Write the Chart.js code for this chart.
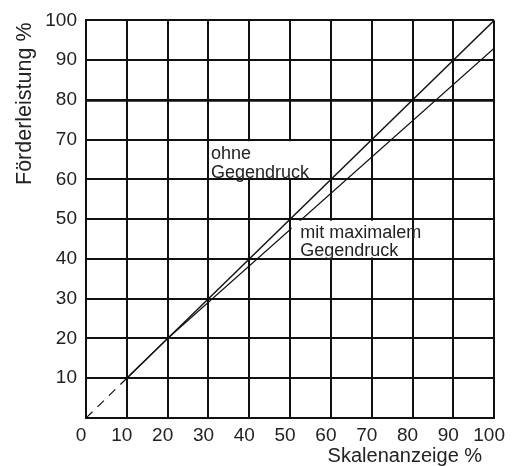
<!DOCTYPE html>
<html>
<head>
<meta charset="utf-8">
<script src="https://cdn.jsdelivr.net/npm/chart.js@4.4.1/dist/chart.umd.min.js"></script>
<style>
html, body { margin: 0; padding: 0; background: #fff; }
#wrap { width: 516px; height: 466px; }
</style>
</head>
<body>
<div id="wrap"><canvas id="chart"></canvas></div>
<script>
// Werte
var skalaOhne = [10, 100];
var foerderOhne = [10, 100];
var skalaMax = [10, 20, 100];
var foerderMax = [10, 20, 93];
var skalaAnlauf = [0, 10];
var foerderAnlauf = [0, 10];
var achsenMin = 0;
var achsenMax = 100;
var tickSchritt = 10;
var beschriftungen = [['ohne', 'Gegendruck'], ['mit maximalem', 'Gegendruck']];
var titelX = 'Skalenanzeige %';
var titelY = 'Förderleistung %';

function punkte(xs, ys) {
    return xs.map(function (x, i) { return {x: x, y: ys[i]}; });
}

var schrift = "'Liberation Sans', Arial, sans-serif";

// weisse Kaesten mit Text, Lage in Achsenwerten
var kastenPlugin = {
    id: 'kasten',
    afterDatasetsDraw: function (chart) {
        var xs = chart.scales.x, ys = chart.scales.y, ctx = chart.ctx;
        var kaesten = [
            {x1: 30, x2: 60, y1: 70, y2: 60, tx: 30.6, zeile: 19},
            {x1: 50, x2: 80, y1: 50, y2: 40, tx: 52.5, zeile: 18}
        ];
        ctx.save();
        kaesten.forEach(function (k, i) {
            var l = xs.getPixelForValue(k.x1), r = xs.getPixelForValue(k.x2);
            var t = ys.getPixelForValue(k.y1), b = ys.getPixelForValue(k.y2);
            ctx.fillStyle = '#fff';
            ctx.fillRect(l + 1.5, t + 1.5, r - l - 3, b - t - 3);
            ctx.fillStyle = '#222';
            ctx.font = '18px ' + schrift;
            ctx.textBaseline = 'alphabetic';
            ctx.textAlign = 'left';
            var tx = xs.getPixelForValue(k.tx);
            beschriftungen[i].forEach(function (z, j) {
                ctx.fillText(z, tx, t + 19 + j * k.zeile);
            });
        });
        ctx.restore();
    }
};

// Achsentitel
var titelPlugin = {
    id: 'titel',
    afterDraw: function (chart) {
        var ctx = chart.ctx, a = chart.chartArea;
        ctx.save();
        ctx.fillStyle = '#222';
        ctx.textBaseline = 'alphabetic';
        ctx.font = '20px ' + schrift;
        ctx.textAlign = 'right';
        ctx.fillText(titelX, a.right - 12, chart.height - 4);
        ctx.font = '21.5px ' + schrift;
        ctx.textAlign = 'left';
        ctx.translate(31, 185);
        ctx.rotate(-Math.PI / 2);
        ctx.fillText(titelY, 0, 0);
        ctx.restore();
    }
};

var ctx = document.getElementById('chart');
var chart = new Chart(ctx, {
    type: 'scatter',
    data: {
        datasets: [{
            label: 'ohne Gegendruck',
            data: punkte(skalaOhne, foerderOhne),
            showLine: true,
            borderColor: '#111',
            borderWidth: 1.4,
            pointRadius: 0
        }, {
            label: 'mit maximalem Gegendruck',
            data: punkte(skalaMax, foerderMax),
            showLine: true,
            borderColor: '#111',
            borderWidth: 1.1,
            pointRadius: 0
        }, {
            label: 'Anlauf',
            data: punkte(skalaAnlauf, foerderAnlauf),
            showLine: true,
            borderColor: '#111',
            borderWidth: 1.2,
            borderDash: [9, 7],
            pointRadius: 0
        }]
    },
    options: {
        responsive: true,
        maintainAspectRatio: false,
        animation: false,
        layout: {padding: {top: 17, right: 17, left: 0, bottom: 0}},
        plugins: {
            legend: {display: false},
            tooltip: {enabled: false}
        },
        scales: {
            x: {
                type: 'linear',
                min: achsenMin,
                max: achsenMax,
                afterFit: function (s) { s.height = 48; },
                ticks: {
                    stepSize: tickSchritt,
                    padding: 6,
                    labelOffset: -5,
                    color: '#222',
                    font: {family: schrift, size: 19}
                },
                grid: {color: '#111', lineWidth: 2, drawTicks: false},
                border: {color: '#111', width: 2}
            },
            y: {
                type: 'linear',
                min: achsenMin,
                max: achsenMax,
                afterFit: function (s) { s.width = 86; },
                ticks: {
                    stepSize: tickSchritt,
                    padding: 9,
                    color: '#222',
                    font: {family: schrift, size: 19},
                    callback: function (v) { return v === 0 ? '' : v; }
                },
                grid: {
                    color: '#111',
                    drawTicks: false,
                    lineWidth: function (c) { return c.tick && c.tick.value === 80 ? 2.8 : 2; }
                },
                border: {color: '#111', width: 2}
            }
        }
    },
    plugins: [kastenPlugin, titelPlugin]
});
</script>
</body>
</html>
